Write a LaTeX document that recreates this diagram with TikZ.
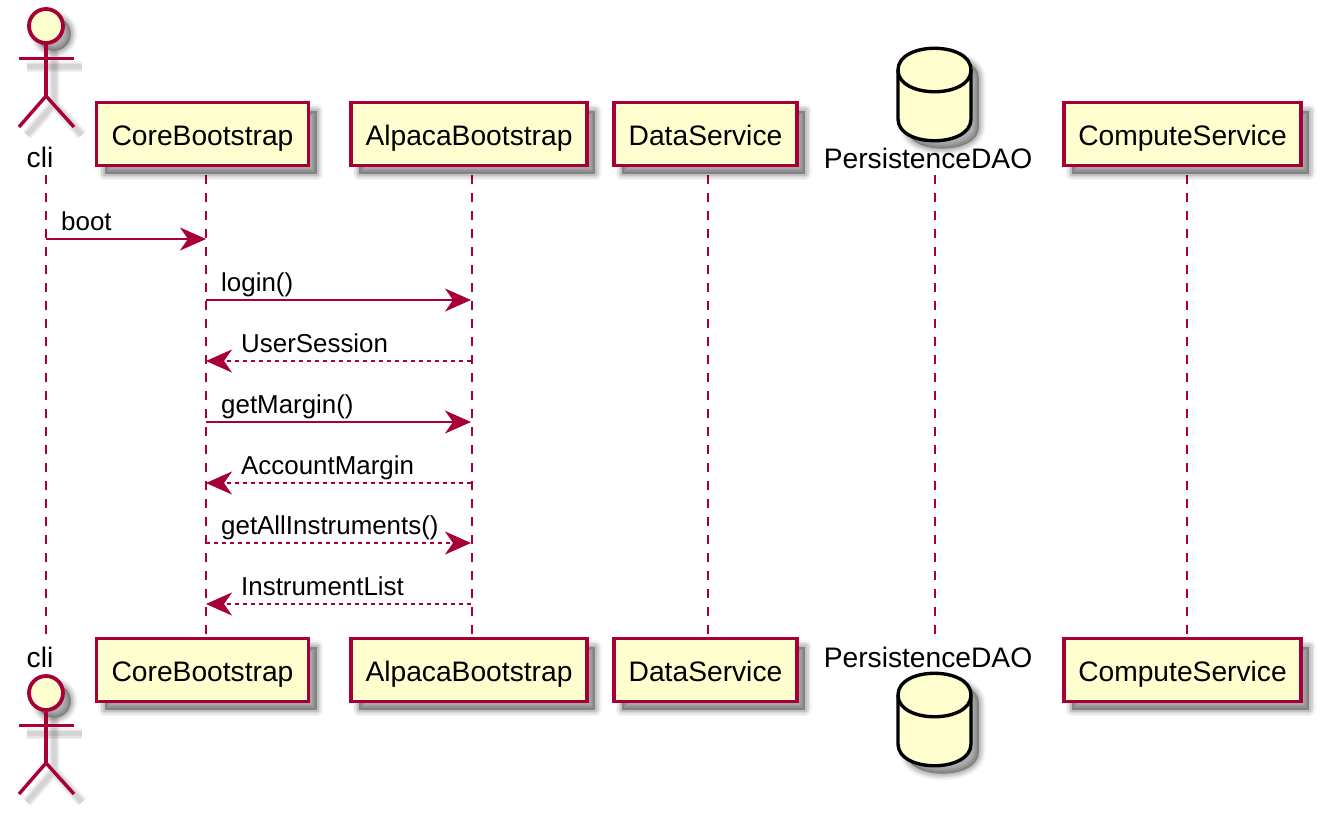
\documentclass[tikz,border=0pt]{standalone}
\usepackage{fontspec}
\setmainfont{Liberation Sans}
\usetikzlibrary{arrows.meta}
\definecolor{umlred}{HTML}{A80036}
\definecolor{umlfill}{HTML}{FEFECE}
\tikzset{
  softshadow/.style={
    preaction={draw=black,fill=black,opacity=.04,line width=13pt,transform canvas={shift={(8pt,-8pt)}},line join=round},
    preaction={draw=black,fill=black,opacity=.06,line width=10pt,transform canvas={shift={(8pt,-8pt)}},line join=round},
    preaction={draw=black,fill=black,opacity=.08,line width=7pt,transform canvas={shift={(8pt,-8pt)}},line join=round},
    preaction={draw=black,fill=black,opacity=.09,line width=4pt,transform canvas={shift={(8pt,-8pt)}},line join=round},
    preaction={fill=black,opacity=.1,transform canvas={shift={(8pt,-8pt)}}}},
  linesoft/.style={
    preaction={draw=black,opacity=.05,line width=11pt,transform canvas={shift={(8pt,-8pt)}}},
    preaction={draw=black,opacity=.06,line width=8pt,transform canvas={shift={(8pt,-8pt)}}},
    preaction={draw=black,opacity=.07,line width=5pt,transform canvas={shift={(8pt,-8pt)}}}},
  boxnode/.style={rectangle,draw=umlred,fill=umlfill,line width=3.4pt,inner sep=0pt,softshadow,
    text height=22pt,text depth=0pt,
    font=\fontsize{28.2}{30}\selectfont,text=black},
  lifeline/.style={draw=umlred,line width=2.4pt,dash pattern=on 9pt off 9pt},
  namelabel/.style={anchor=base,inner sep=0pt,font=\fontsize{28.2}{30}\selectfont,text=black},
  msglabel/.style={anchor=base west,inner sep=0pt,font=\fontsize{25.9}{30}\selectfont,text=black},
  msg/.style={draw=umlred,line width=2.4pt,-{Stealth[length=26pt,width=23pt,inset=8pt,fill=umlred]}},
  msgdash/.style={msg,dash pattern=on 4pt off 4pt},
  actorline/.style={draw=umlred,line width=3.4pt,fill=none},
  actorhead/.style={draw=umlred,line width=3.8pt,fill=umlfill,softshadow},
  cyl/.style={draw=black,line width=3.4pt,fill=umlfill,line join=round}
}
\newcommand{\umlactor}[1]{%
  \begin{scope}[yshift=#1]
    \path[linesoft,draw=none] (19,58.5) -- (74,58.5);
    \path[linesoft,draw=none] (46,43) -- (46,96) (19,127) -- (46,96) -- (74,127);
    \path[actorhead] (46,26) circle[radius=17];
    \path[actorline] (19,58.5) -- (74,58.5);
    \path[actorline] (46,43) -- (46,96);
    \path[actorline,line join=miter] (19,127) -- (46,96) -- (74,127);
  \end{scope}}
\newcommand{\umlcyl}[1]{%
  \begin{scope}[yshift=#1]
    \path[cyl,softshadow] (898,70) .. controls (898,41) and (971,41) .. (971,70)
      -- (971,119) .. controls (971,148) and (898,148) .. (898,119) -- cycle;
    \path[cyl,fill=none] (898,70) .. controls (898,99) and (971,99) .. (971,70);
  \end{scope}}
\begin{document}
\begin{tikzpicture}[x=1pt,y=-1pt]
\useasboundingbox (0,0) rectangle (1320,815);
% lifeline ends
\coordinate (cliTop) at (46,175);      \coordinate (cliBot) at (46,636);
\coordinate (coreTop) at (206,175);    \coordinate (coreBot) at (206,636);
\coordinate (alpTop) at (472,175);     \coordinate (alpBot) at (472,636);
\coordinate (dataTop) at (708,175);    \coordinate (dataBot) at (708,636);
\coordinate (persTop) at (935,175);    \coordinate (persBot) at (935,636);
\coordinate (compTop) at (1187,175);   \coordinate (compBot) at (1187,636);
\foreach \n in {cli,core,alp,data,pers,comp}{\draw[lifeline] (\n Top) -- (\n Bot);}
% top row
\umlactor{0pt}
\node[namelabel] (cliT) at (40,167) {cli};
\node[boxnode,minimum width=212pt,minimum height=63pt] (coreT) at (202.5,134) {CoreBootstrap};
\node[boxnode,minimum width=236pt,minimum height=63pt] (alpT) at (469,134) {AlpacaBootstrap};
\node[boxnode,minimum width=183pt,minimum height=63pt] (dataT) at (705.5,134) {DataService};
\umlcyl{0pt}
\node[namelabel] (persT) at (928,168) {PersistenceDAO};
\node[boxnode,minimum width=237pt,minimum height=63pt] (compT) at (1182.5,134) {ComputeService};
% bottom row
\node[namelabel] (cliB) at (40,667) {cli};
\umlactor{-667pt}
\node[boxnode,minimum width=212pt,minimum height=63pt] (coreB) at (202.5,670) {CoreBootstrap};
\node[boxnode,minimum width=236pt,minimum height=63pt] (alpB) at (469,670) {AlpacaBootstrap};
\node[boxnode,minimum width=183pt,minimum height=63pt] (dataB) at (705.5,670) {DataService};
\node[namelabel] (persB) at (928,667) {PersistenceDAO};
\umlcyl{-625pt}
\node[boxnode,minimum width=237pt,minimum height=63pt] (compB) at (1182.5,670) {ComputeService};
% messages
\foreach \i/\y in {1/239,2/300,3/361,4/422,5/483,6/543,7/604}{
  \coordinate (cli\i) at (46,\y);
  \coordinate (core\i) at (206,\y);
  \coordinate (alp\i) at (471,\y);
}
\draw[msg] (cli1) -- (core1);
\node[msglabel] (l1) at (61,230) {boot};
\draw[msg] (core2) -- (alp2);
\node[msglabel] (l2) at (221,291) {login()};
\draw[msgdash] (alp3) -- (core3);
\node[msglabel] (l3) at (241,352) {UserSession};
\draw[msg] (core4) -- (alp4);
\node[msglabel] (l4) at (221,413) {getMargin()};
\draw[msgdash] (alp5) -- (core5);
\node[msglabel] (l5) at (241,474) {AccountMargin};
\draw[msgdash] (core6) -- (alp6);
\node[msglabel] (l6) at (221,534) {getAllInstruments()};
\draw[msgdash] (alp7) -- (core7);
\node[msglabel] (l7) at (241,595) {InstrumentList};
\end{tikzpicture}
\end{document}
